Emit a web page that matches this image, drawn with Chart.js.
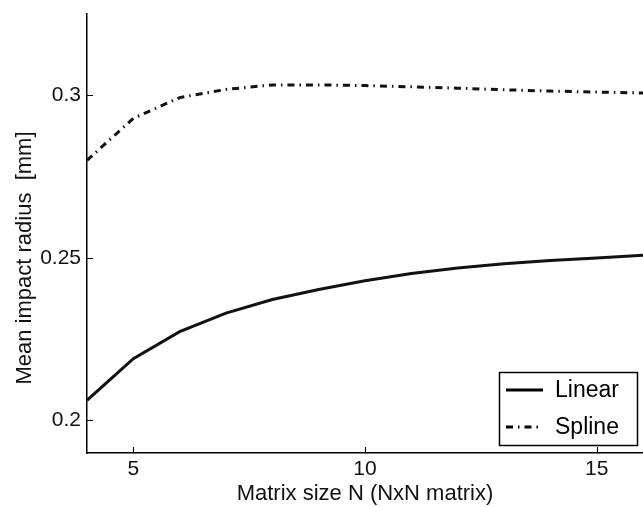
<!DOCTYPE html>
<html>
<head>
<meta charset="utf-8">
<script src="https://cdn.jsdelivr.net/npm/chart.js@4/dist/chart.umd.min.js"></script>
<style>
  html, body { margin: 0; padding: 0; background: #fff; }
  #wrap { width: 643px; height: 507px; }
</style>
</head>
<body>
<div id="wrap"><canvas id="impactCanvas"></canvas></div>
<script>
// matrix size N
const matrixSize = [4, 5, 6, 7, 8, 9, 10, 11, 12, 13, 14, 15, 16];
const linearRadius = [0.2062, 0.2190, 0.2273, 0.2330, 0.2372, 0.2403, 0.2430, 0.2452, 0.2469, 0.2482, 0.2492, 0.2500, 0.2508];
const splineRadius = [0.2800, 0.2929, 0.2993, 0.3018, 0.3032, 0.3032, 0.3030, 0.3026, 0.3022, 0.3017, 0.3013, 0.3010, 0.3007];
const xTicks = [5, 10, 15];
const yTicks = [0.2, 0.25, 0.3];
const yLabel = "Mean impact radius  [mm]";

const FONT = "'Liberation Sans', Arial, Helvetica, sans-serif";

function toPoints(ys) {
  var pts = [];
  for (let i = 0; i < matrixSize.length; i++) {
    pts.push({x: matrixSize[i], y: ys[i]});
  }
  return pts;
}

// matlab style: ticks pointing into the axes, boxed legend in the corner,
// y label sits a bit lower than the axis middle
const matlabBits = {
  id: "matlabBits",
  afterDraw(chart) {
    const ctx = chart.ctx;
    const area = chart.chartArea;
    const xs = chart.scales.x, ys = chart.scales.y;
    ctx.save();
    ctx.strokeStyle = "#000";
    ctx.lineWidth = 1;
    ctx.beginPath();
    xTicks.forEach(v => {
      const px = Math.round(xs.getPixelForValue(v)) + 0.5;
      ctx.moveTo(px, area.bottom);
      ctx.lineTo(px, area.bottom - 6);
    });
    yTicks.forEach(v => {
      const py = Math.round(ys.getPixelForValue(v)) + 0.5;
      ctx.moveTo(area.left, py);
      ctx.lineTo(area.left + 6, py);
    });
    ctx.stroke();

    // y axis label
    ctx.save();
    ctx.translate(25, 258);
    ctx.rotate(-Math.PI / 2);
    ctx.font = "22px " + FONT;
    ctx.textAlign = "center";
    ctx.textBaseline = "middle";
    ctx.fillStyle = "#111";
    ctx.fillText(yLabel, 0, 0);
    ctx.restore();

    // legend box
    const w = 138, h = 73;
    const bx = area.right - 6 - w, by = area.bottom - 8 - h;
    ctx.fillStyle = "#fff";
    ctx.fillRect(bx, by, w, h);
    ctx.lineWidth = 1.5;
    ctx.strokeRect(bx + 0.5, by + 0.5, w, h);
    ctx.font = "23px " + FONT;
    ctx.textBaseline = "middle";
    ctx.fillStyle = "#000";
    chart.data.datasets.forEach((ds, i) => {
      const ry = by + 18 + i * 37;
      ctx.beginPath();
      ctx.setLineDash(ds.borderDash || []);
      ctx.lineWidth = ds.borderWidth;
      ctx.lineCap = "butt";
      ctx.moveTo(bx + 7, ry);
      ctx.lineTo(bx + 44, ry);
      ctx.stroke();
      ctx.setLineDash([]);
      ctx.fillText(ds.label, bx + 56, ry + 1);
    });
    ctx.restore();
  }
};

new Chart(document.getElementById("impactCanvas"), {
  type: "line",
  data: {
    datasets: [{
      label: "Linear",
      data: toPoints(linearRadius),
      borderColor: "#111",
      borderWidth: 3,
      pointRadius: 0,
      fill: false,
      tension: 0
    }, {
      label: "Spline",
      data: toPoints(splineRadius),
      borderColor: "#111",
      borderWidth: 3,
      borderDash: [7, 5, 1.5, 5],
      borderCapStyle: "butt",
      pointRadius: 0,
      fill: false,
      tension: 0
    }]
  },
  options: {
    responsive: true,
    maintainAspectRatio: false,
    animation: false,
    layout: {padding: {top: 14, right: 0, left: 0, bottom: 0}},
    plugins: {
      legend: {display: false},
      tooltip: {enabled: false}
    },
    scales: {
      x: {
        type: "linear",
        min: 4,
        max: 16,
        afterBuildTicks: s => { s.ticks = xTicks.map(v => ({value: v})); },
        afterFit: s => { s.height = 54; s.paddingLeft = 0; s.paddingRight = 0; },
        grid: {display: true, drawOnChartArea: false, drawTicks: false},
        border: {display: true, color: "#000", width: 1.5},
        ticks: {
          color: "#111",
          padding: 4,
          maxRotation: 0,
          font: {family: FONT, size: 21},
          callback: v => String(v)
        },
        title: {
          display: true,
          text: "Matrix size N (NxN matrix)",
          color: "#111",
          padding: {top: 0, bottom: 0},
          font: {family: FONT, size: 22}
        }
      },
      y: {
        min: 0.19,
        max: 0.325,
        afterBuildTicks: s => { s.ticks = yTicks.map(v => ({value: v})); },
        afterFit: s => { s.width = 87; s.paddingTop = 0; s.paddingBottom = 0; },
        grid: {display: true, drawOnChartArea: false, drawTicks: false},
        border: {display: true, color: "#000", width: 1.5},
        ticks: {
          color: "#111",
          padding: 6,
          font: {family: FONT, size: 21},
          callback: v => String(v)
        }
      }
    }
  },
  plugins: [matlabBits]
});
</script>
</body>
</html>
